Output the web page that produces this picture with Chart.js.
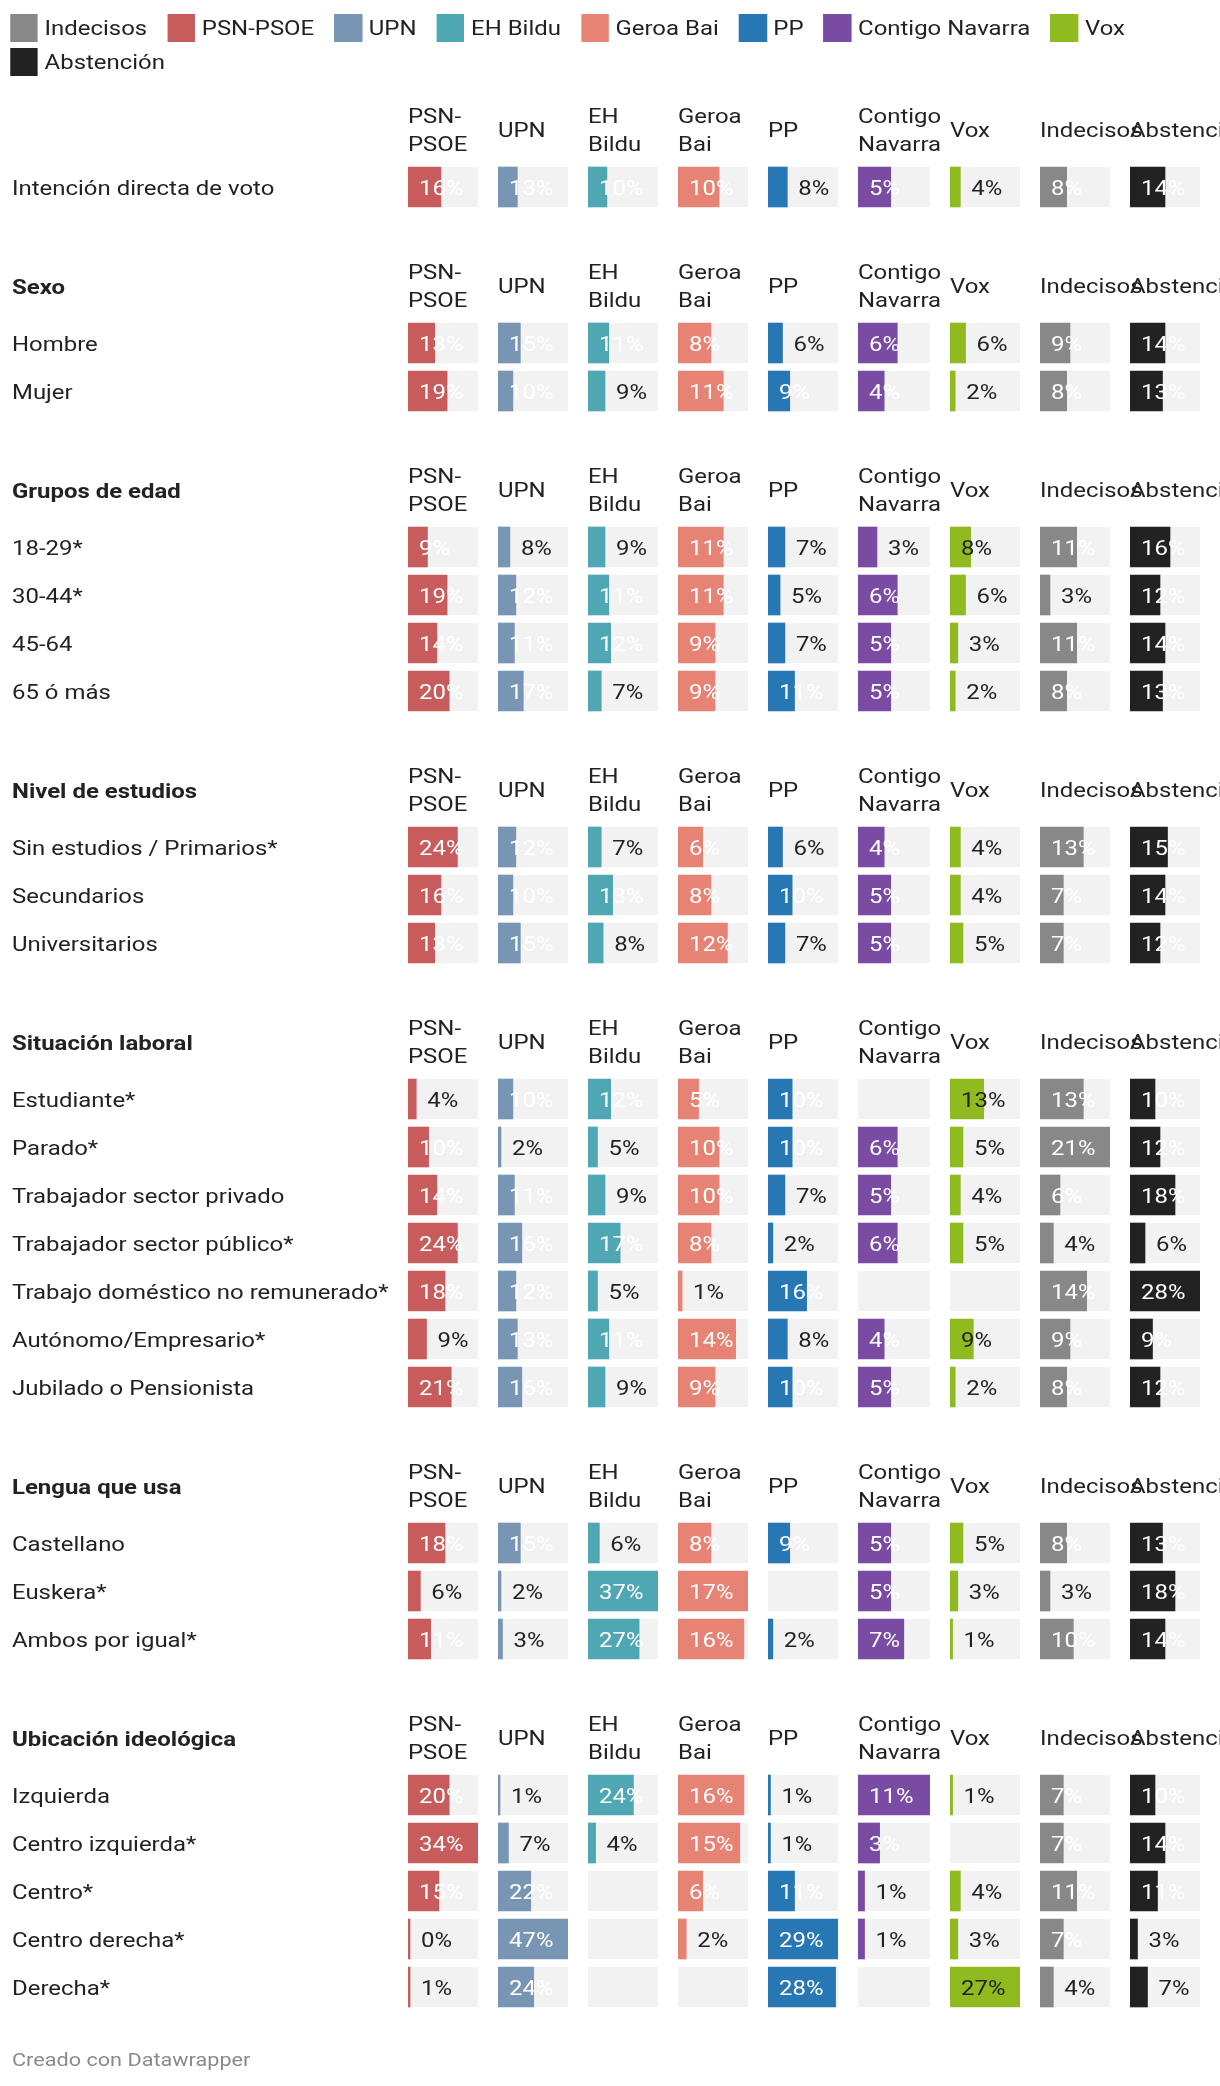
<!DOCTYPE html>
<html>
<head>
<meta charset="utf-8">
<script src="https://cdn.jsdelivr.net/npm/chart.js@4.4.1/dist/chart.umd.min.js"></script>
<style>
  html, body { margin:0; padding:0; background:#fff; width:1220px; height:2086px; overflow:hidden; }
  #charts { position:absolute; left:0; top:0; width:1220px; height:2086px; }
  #text { position:absolute; left:0; top:0; height:2086px; transform-origin:0 0; font-family:Roboto, "Liberation Sans", sans-serif; font-size:21px; color:#222; }
  .abs { position:absolute; white-space:nowrap; }
  .hdr { position:absolute; display:flex; align-items:center; height:56px; }
  .hdr span { line-height:28px; white-space:normal; }
  .title { font-weight:700; }
  #legend { position:absolute; display:flex; flex-wrap:wrap; row-gap:6px; }
  .li { display:flex; align-items:center; height:28px; line-height:28px; white-space:nowrap; }
  .sw { display:inline-block; height:28px; }
  .cell { position:absolute; }
</style>
</head>
<body>
<div id="charts"></div>
<div id="text"></div>
<script>
// ---------------- data ----------------
const parties = ['PSN-PSOE', 'UPN', 'EH Bildu', 'Geroa Bai', 'PP', 'Contigo Navarra', 'Vox', 'Indecisos', 'Abstención'];
const legendOrder = ['Indecisos', 'PSN-PSOE', 'UPN', 'EH Bildu', 'Geroa Bai', 'PP', 'Contigo Navarra', 'Vox', 'Abstención'];

const titleTotal = '';
const rowsTotal = ['Intención directa de voto'];
const valsTotal = [
  [16, 13, 10, 10, 8, 5, 4, 8, 14]
];

const titleSexo = 'Sexo';
const rowsSexo = ['Hombre', 'Mujer'];
const valsSexo = [
  [13, 15, 11, 8, 6, 6, 6, 9, 14],
  [19, 10, 9, 11, 9, 4, 2, 8, 13]
];

const titleEdad = 'Grupos de edad';
const rowsEdad = ['18-29*', '30-44*', '45-64', '65 ó más'];
const valsEdad = [
  [9.45, 8, 9, 11, 7, 2.9, 8, 11, 16],
  [19, 12, 11, 11, 5, 6, 6, 3, 12],
  [14, 11, 12, 9, 7, 5, 3, 11, 14],
  [20, 17, 7, 9, 11, 5, 2, 8, 13]
];

const titleEstudios = 'Nivel de estudios';
const rowsEstudios = ['Sin estudios / Primarios*', 'Secundarios', 'Universitarios'];
const valsEstudios = [
  [24, 12, 7, 6, 6, 4, 4, 13, 15],
  [16, 10, 13, 8, 10, 5, 4, 7, 14],
  [13, 15, 8, 12, 7, 5, 5, 7, 12]
];

const titleLaboral = 'Situación laboral';
const rowsLaboral = ['Estudiante*', 'Parado*', 'Trabajador sector privado', 'Trabajador sector público*', 'Trabajo doméstico no remunerado*', 'Autónomo/Empresario*', 'Jubilado o Pensionista'];
const valsLaboral = [
  [4, 10, 12, 5, 10, null, 13, 13, 10],
  [10, 2, 5, 10, 10, 6, 5, 21, 12],
  [14, 11, 9, 10, 7, 5, 4, 6, 18],
  [24, 16, 17, 8, 2, 6, 5, 4, 6],
  [18, 12, 5, 1, 16, null, null, 14, 28],
  [9, 13, 11, 14, 8, 4, 9, 9, 9],
  [21, 16, 9, 9, 10, 5, 2, 8, 12]
];

const titleLengua = 'Lengua que usa';
const rowsLengua = ['Castellano', 'Euskera*', 'Ambos por igual*'];
const valsLengua = [
  [18, 15, 6, 8, 9, 5, 5, 8, 13],
  [6, 2, 37, 17, null, 5, 3, 3, 18],
  [11, 3, 27, 16, 2, 7, 1, 10, 14]
];

const titleIdeo = 'Ubicación ideológica';
const rowsIdeo = ['Izquierda', 'Centro izquierda*', 'Centro*', 'Centro derecha*', 'Derecha*'];
const valsIdeo = [
  [20, 1, 24, 16, 1, 11, 1, 7, 10],
  [34, 7, 4, 15, 1, 3.3, null, 7, 14],
  [15, 22, null, 6, 11, 1, 4, 11, 11],
  [0, 47, null, 2, 29, 1, 3, 7, 3],
  [1, 24, null, null, 28, null, 27, 4, 7]
];

const footerText = 'Creado con Datawrapper';

// ---------------- styles / layout ----------------
const partyColors = ['#c85b5b', '#7896b3', '#4ea7b2', '#e78374', '#2777b5', '#794ba3', '#8fbb21', '#888888', '#222222'];
const insideLabelColors = ['#fff', '#fff', '#fff', '#fff', '#fff', '#fff', '#222', '#fff', '#fff'];
const TRACK = '#f2f2f2';
const SX = 1.14;                 // horizontal text stretch of the reference
const FONT = 'Roboto, "Liberation Sans", sans-serif';
const COL_LEFT = [408, 498, 588, 678, 768, 858, 950, 1040, 1130];
const COL_W = [70, 70, 70, 70, 70, 72, 70, 70, 70];
const ROW_H = 48, BAR_H = 40, FIRST_TOP = 88;

const sections = [
  { title: titleTotal, rows: rowsTotal, values: valsTotal },
  { title: titleSexo, rows: rowsSexo, values: valsSexo },
  { title: titleEdad, rows: rowsEdad, values: valsEdad },
  { title: titleEstudios, rows: rowsEstudios, values: valsEstudios },
  { title: titleLaboral, rows: rowsLaboral, values: valsLaboral },
  { title: titleLengua, rows: rowsLengua, values: valsLengua },
  { title: titleIdeo, rows: rowsIdeo, values: valsIdeo }
];

// each column scaled to its own maximum
const allRows = sections.flatMap(s => s.values);
const colMax = parties.map((_, j) => Math.max(...allRows.map(r => (r[j] == null ? 0 : r[j]))));

const textLayer = document.getElementById('text');
textLayer.style.width = (1220 / SX) + 'px';
textLayer.style.transform = 'scaleX(' + SX + ')';
const chartLayer = document.getElementById('charts');

function addDiv(parent, cls, txt, left, y, extra) {
  const d = document.createElement('div');
  d.className = cls;
  if (txt != null) d.textContent = txt;
  d.style.left = left + 'px';
  d.style.top = y + 'px';
  if (extra) Object.assign(d.style, extra);
  parent.appendChild(d);
  return d;
}

// legend
const legend = addDiv(textLayer, '', null, 10 / SX, 14, { width: (1210 / SX) + 'px' });
legend.id = 'legend';
legendOrder.forEach(name => {
  const it = document.createElement('div');
  it.className = 'li';
  it.style.marginRight = (20 / SX) + 'px';
  const sw = document.createElement('span');
  sw.className = 'sw';
  sw.style.width = (28 / SX) + 'px';
  sw.style.marginRight = (6.6 / SX) + 'px';
  sw.style.background = partyColors[parties.indexOf(name)];
  it.appendChild(sw);
  const t = document.createElement('span');
  t.textContent = name;
  it.appendChild(t);
  legend.appendChild(it);
});

const cellPlugin = {
  id: 'cell',
  beforeDatasetsDraw(chart) {
    const { ctx, scales: { x, y } } = chart;
    const x0 = x.getPixelForValue(x.min), x1 = x.getPixelForValue(x.max);
    ctx.save();
    ctx.fillStyle = TRACK;
    chart.data.labels.forEach((_, i) => {
      const yc = y.getPixelForValue(i);
      ctx.fillRect(x0, yc - BAR_H / 2, x1 - x0, BAR_H);
    });
    ctx.restore();
  },
  afterDatasetsDraw(chart, args, opts) {
    const { ctx } = chart;
    const ds = chart.data.datasets[0];
    const meta = chart.getDatasetMeta(0);
    ctx.save();
    ctx.font = '21px ' + FONT;
    ctx.textBaseline = 'alphabetic';
    ctx.textAlign = 'left';
    meta.data.forEach((el, i) => {
      const v = ds.data[i];
      if (v == null) return;
      const w = el.x - el.base;
      const inside = v >= 10 || w >= 19.4;
      const tx = (inside ? el.base : el.x) + 11;
      ctx.fillStyle = inside ? opts.insideColor : '#222';
      ctx.save();
      ctx.translate(tx, el.y + 7.5);
      ctx.scale(SX, 1);
      ctx.fillText(Math.round(v) + '%', 0, 0);
      ctx.restore();
    });
    ctx.restore();
  }
};

let secTop = FIRST_TOP;
sections.forEach(sec => {
  const n = sec.rows.length;
  const tc = secTop + 42;
  if (sec.title) {
    addDiv(textLayer, 'abs title', sec.title, 12 / SX, tc - 13, { lineHeight: '28px' });
  }
  parties.forEach((p, j) => {
    const h = addDiv(textLayer, 'hdr', null, COL_LEFT[j] / SX, tc - 28, { width: (COL_W[j] / SX) + 'px' });
    const s = document.createElement('span');
    s.textContent = p;
    h.appendChild(s);
  });
  sec.rows.forEach((r, i) => {
    addDiv(textLayer, 'abs', r, 12 / SX, secTop + 76 + ROW_H * i, { lineHeight: ROW_H + 'px', height: ROW_H + 'px' });
  });
  parties.forEach((p, j) => {
    const wrap = addDiv(chartLayer, 'cell', null, COL_LEFT[j], secTop + 75);
    const cv = document.createElement('canvas');
    cv.width = COL_W[j];
    cv.height = ROW_H * n;
    wrap.appendChild(cv);
    new Chart(cv, {
      type: 'bar',
      data: {
        labels: sec.rows,
        datasets: [{
          data: sec.values.map(r => r[j]),
          backgroundColor: partyColors[j],
          borderWidth: 0,
          barThickness: BAR_H,
          minBarLength: 2
        }]
      },
      options: {
        indexAxis: 'y',
        responsive: false,
        animation: false,
        events: [],
        layout: { padding: 0 },
        scales: {
          x: { display: false, min: 0, max: colMax[j] },
          y: { display: false }
        },
        plugins: {
          legend: { display: false },
          tooltip: { enabled: false },
          cell: { insideColor: insideLabelColors[j] }
        }
      },
      plugins: [cellPlugin]
    });
  });
  secTop += 108 + ROW_H * n;
});

addDiv(textLayer, 'abs', footerText, 12 / SX, 2048, { fontSize: '19px', lineHeight: '24px', color: '#8a8a8a' });
</script>
</body>
</html>
